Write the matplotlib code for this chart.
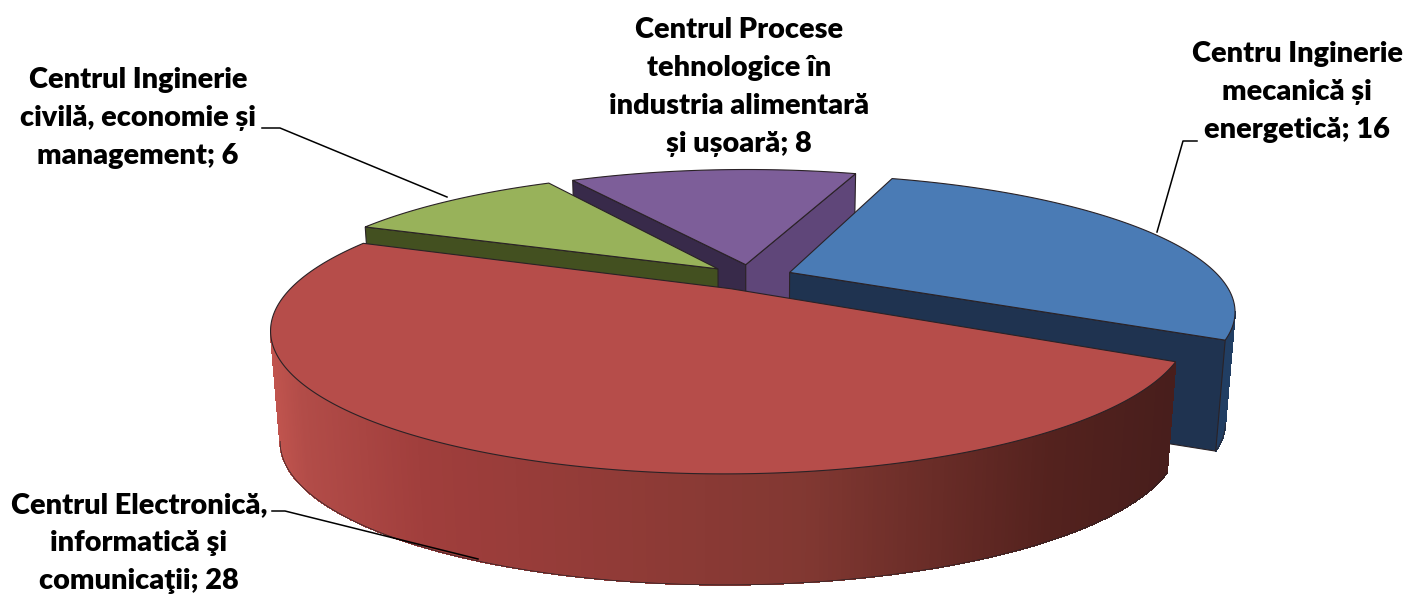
"""Exploded 3D pie of research centres, projected by hand onto a flat axes."""
import numpy as np
import matplotlib
matplotlib.use("Agg")
import matplotlib.pyplot as plt
from matplotlib.collections import PolyCollection
from matplotlib.patches import Polygon

# data, clockwise from the rotation angle
names = ["Centru Inginerie\nmecanică și\nenergetică",
         "Centrul Electronică,\ninformatică şi\ncomunicaţii",
         "Centrul Inginerie\ncivilă, economie și\nmanagement",
         "Centrul Procese\ntehnologice în\nindustria alimentară\nși ușoară"]
values = [16, 28, 6, 8]

top_colors = ["#4A7BB5", "#B64D4A", "#98B25A", "#7D5E99"]
rim_colors = ["#213E63", "#7A2F2B", "#435020", "#5F4679"]
start_colors = ["#1F3350", "#4E1F1C", "#435020", "#382A4A"]
end_colors = ["#1F3350", "#4E1F1C", "#435020", "#5F4679"]
draw_order = [3, 2, 0, 1]

# projection settings
ROT = 19.0
EXPLODE = 0.10
CX, CY = 750.0, 277.0
RX, RY = 430.0, 127.0
PERSP = 0.272
HEIGHT = 111.0
LEAN = 0.02
EDGE = "#2a2226"


def project(ang, r, mid, down=False):
    X = r * np.sin(np.radians(ang)) + EXPLODE * np.sin(np.radians(mid))
    Y = r * np.cos(np.radians(ang)) + EXPLODE * np.cos(np.radians(mid))
    s = 1.0 / (1.0 + PERSP * Y)
    x = CX + RX * X * s
    y = CY - RY * Y * s
    if down:
        x = CX + (x - CX) * (1 - LEAN)
        y = y + HEIGHT
    return np.array([x, y]).T


def red_shade(x):
    xp = [270, 300, 420, 800, 1050, 1170]
    r = np.interp(x, xp, [192, 178, 160, 130, 84, 72])
    g = np.interp(x, xp, [84, 76, 62, 56, 34, 30])
    b = np.interp(x, xp, [78, 72, 60, 50, 30, 28])
    return np.array([r, g, b]).T / 255.0


fig = plt.figure(figsize=(14.08, 5.94), dpi=100)
ax = fig.add_axes([0, 0, 1, 1])
ax.set_xlim(0, 1408)
ax.set_ylim(594, 0)
ax.axis("off")

sweeps = np.array(values) / sum(values) * 360.0
starts = ROT + np.concatenate([[0], np.cumsum(sweeps)[:-1]])

for z, i in enumerate(draw_order):
    z *= 10
    a0 = starts[i]
    a1 = a0 + sweeps[i]
    mid = (a0 + a1) / 2
    angs = np.linspace(a0, a1, 400)
    top = project(angs, 1.0, mid)
    bot = project(angs, 1.0, mid, down=True)
    apex_t = project(np.array(a0), 0.0, mid)
    apex_b = project(np.array(a0), 0.0, mid, down=True)

    # outer rim, front part only, in thin strips so the red one can carry its gradient
    front = np.where(np.diff(top[:, 0]) < 0)[0]
    if len(front):
        quads = [[top[k], top[k + 1], bot[k + 1], bot[k]] for k in front]
        if i == 1:
            cols = red_shade((top[front, 0] + top[front + 1, 0]) / 2)
        else:
            cols = [rim_colors[i]] * len(quads)
        ax.add_collection(PolyCollection(quads, facecolors=cols, edgecolors=cols, linewidths=0.5,
                                         antialiased=False, zorder=2 + z))
        seg = np.r_[front, front[-1] + 1]
        ax.plot(bot[seg, 0], bot[seg, 1], color=EDGE, lw=0.5, zorder=3 + z)

    # cut faces that look toward the viewer
    if np.sin(np.radians(a0)) < 0:
        ax.add_patch(Polygon([apex_t, top[0], bot[0], apex_b], closed=True, facecolor=start_colors[i],
                             edgecolor=EDGE, lw=0.8, zorder=4 + z))
    if np.sin(np.radians(a1)) > 0:
        ax.add_patch(Polygon([apex_t, top[-1], bot[-1], apex_b], closed=True, facecolor=end_colors[i],
                             edgecolor=EDGE, lw=0.8, zorder=4 + z))
    # top face
    ax.add_patch(Polygon(np.vstack([[apex_t], top]), closed=True, facecolor=top_colors[i],
                         edgecolor=EDGE, lw=0.8, zorder=6 + z))

# labels
label_pos = [(1297, 92), (139, 543), (138, 118), (739, 87)]
for name, val, (lx, ly) in zip(names, values, label_pos):
    ax.text(lx, ly, f"{name}; {val}", ha="center", va="center", fontsize=20.8, fontweight=800,
            family=["Lato", "DejaVu Sans"], linespacing=1.56, color="black", zorder=60)

# leader lines
ax.plot([1197, 1183, 1157], [141, 141, 232], color="black", lw=1.1, zorder=60)
ax.plot([262, 280, 447], [128, 128, 197], color="black", lw=1.1, zorder=60)
ax.plot([272, 285, 478], [511, 511, 559], color="black", lw=1.1, zorder=60)

fig.savefig("out.png", dpi=100, facecolor="white")
